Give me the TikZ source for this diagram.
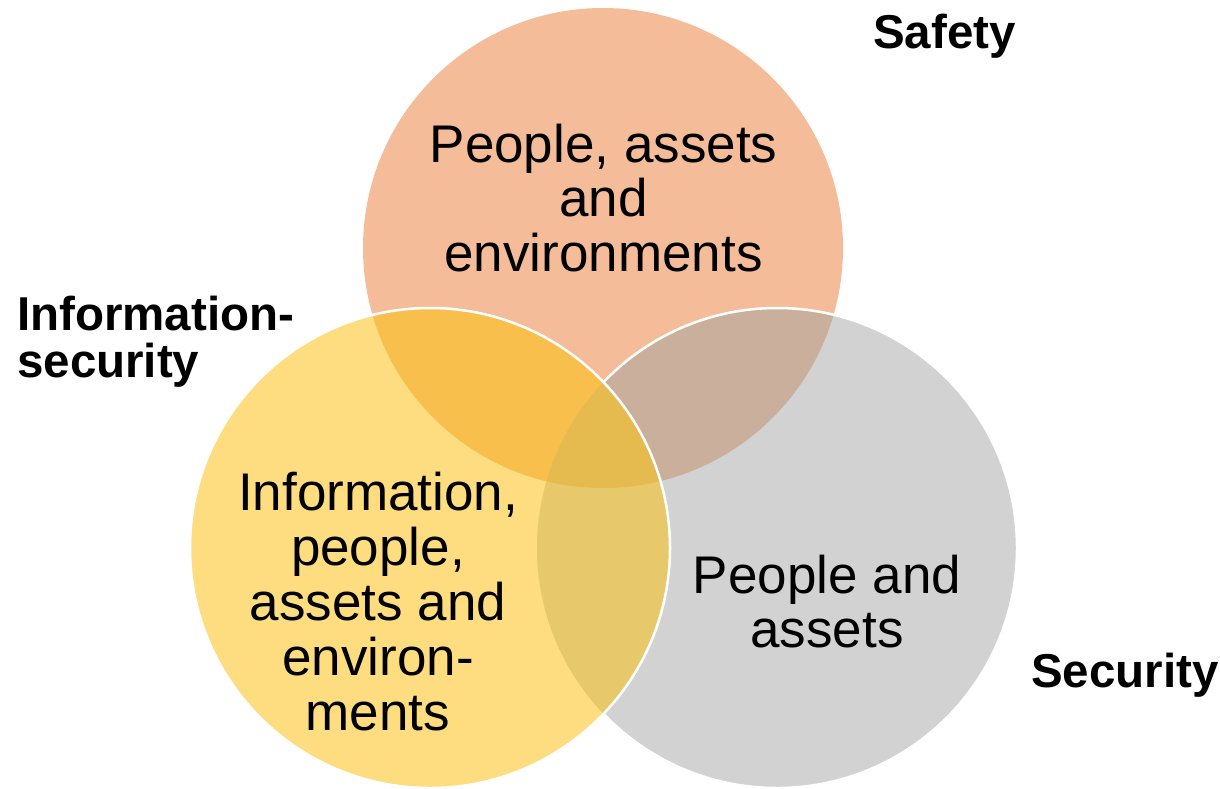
\documentclass[tikz,border=0pt]{standalone}
\usepackage{fontspec}
\setmainfont{Liberation Sans}
\definecolor{cS}{HTML}{F4BC98}
\definecolor{cG}{HTML}{D2D2D2}
\definecolor{cY}{HTML}{FDDD80}
\definecolor{cSG}{HTML}{CAAF9D}
\definecolor{cSY}{HTML}{F8BF4C}
\definecolor{cYG}{HTML}{E7C86A}
\definecolor{cSYG}{HTML}{E5BA4E}
\begin{document}
\begin{tikzpicture}[x=1pt,y=-1pt,
  body/.style={align=center, inner sep=0pt, anchor=base, font=\fontsize{53}{54.8}\selectfont},
  setlabel/.style={inner sep=0pt, anchor=base west, font=\fontsize{47.5}{47}\selectfont\bfseries},
  outline/.style={draw=white, line width=2.5pt}]
\useasboundingbox (0,0) rectangle (1220,788);
\coordinate (S) at (603,248);
\coordinate (Y) at (430,548);
\coordinate (G) at (777,548);
% orange and gray
\fill[cS] (S) circle[radius=240pt];
\fill[cG] (G) circle[radius=240pt];
\begin{scope}
  \clip (S) circle[radius=240pt];
  \fill[cSG] (G) circle[radius=240pt];
\end{scope}
\draw[outline] (G) circle[radius=240pt];
% yellow
\fill[cY] (Y) circle[radius=240pt];
\begin{scope}
  \clip (Y) circle[radius=240pt];
  \fill[cSY] (S) circle[radius=240pt];
  \fill[cYG] (G) circle[radius=240pt];
  \clip (S) circle[radius=240pt];
  \fill[cSYG] (G) circle[radius=240pt];
\end{scope}
\draw[outline] (Y) circle[radius=240pt];
% texts (anchor base = baseline of last line)
\node[body] (tS) at (603.5,271.6) {People, assets\\and\\environments};
\node[body] (tY) at (378,730) {Information,\\people,\\assets and\\environ-\\ments};
\node[body] (tG) at (827,647.8) {People and\\assets};
\node[setlabel] (lS) at (873,48) {Safety};
\node[setlabel] (lG) at (1031,687) {Security};
\node[setlabel, align=left] (lY) at (17,377) {Information-\\security};
\end{tikzpicture}
\end{document}
